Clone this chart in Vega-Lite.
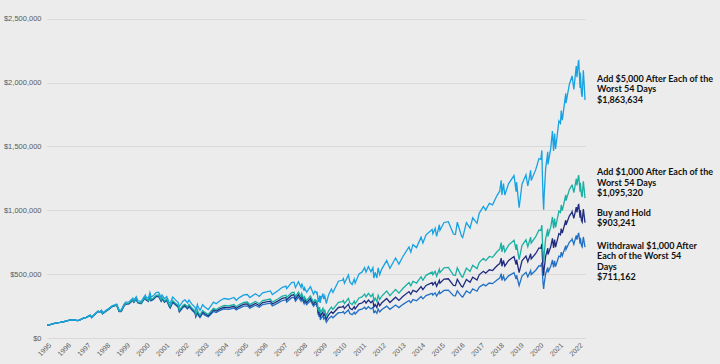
{
"$schema": "https://vega.github.io/schema/vega-lite/v6.json",
"width": 538, "height": 332,
"autosize": "none",
"padding": {"left": 47, "top": 6, "right": 135, "bottom": 26},
"background": "#ececec",
"config": {"view": {"stroke": null}, "font": "Liberation Sans"},
"datasets": {"series": [
{"date":"1995-01-03","w":100000,"bh":100000,"a1":100000,"a5":100000},
{"date":"1995-03-01","w":105640,"bh":105640,"a1":105640,"a5":105640},
{"date":"1995-05-01","w":111960,"bh":111960,"a1":111960,"a5":111960},
{"date":"1995-07-03","w":119150,"bh":119150,"a1":119150,"a5":119150},
{"date":"1995-09-01","w":122630,"bh":122630,"a1":122630,"a5":122630},
{"date":"1995-11-01","w":127210,"bh":127210,"a1":127210,"a5":127210},
{"date":"1995-12-29","w":134180,"bh":134180,"a1":134180,"a5":134180},
{"date":"1996-03-01","w":140490,"bh":140490,"a1":140490,"a5":140490},
{"date":"1996-05-01","w":142450,"bh":142450,"a1":142450,"a5":142450},
{"date":"1996-07-24","w":136570,"bh":136570,"a1":136570,"a5":136570},
{"date":"1996-09-03","w":142020,"bh":142020,"a1":142020,"a5":142020},
{"date":"1996-11-01","w":153350,"bh":153350,"a1":153350,"a5":153350},
{"date":"1996-12-31","w":161400,"bh":161400,"a1":161400,"a5":161400},
{"date":"1997-03-11","w":177090,"bh":177090,"a1":177090,"a5":177090},
{"date":"1997-04-11","w":160530,"bh":160530,"a1":160530,"a5":160530},
{"date":"1997-06-02","w":184280,"bh":184280,"a1":184280,"a5":184280},
{"date":"1997-08-06","w":209110,"bh":209110,"a1":209110,"a5":209110},
{"date":"1997-09-02","w":201920,"bh":201920,"a1":201920,"a5":201920},
{"date":"1997-10-07","w":214120,"bh":214120,"a1":214120,"a5":214120},
{"date":"1997-10-27","w":190030,"bh":191030,"a1":192030,"a5":196030},
{"date":"1997-12-31","w":210180,"bh":211290,"a1":212400,"a5":216820},
{"date":"1998-03-02","w":227080,"bh":228280,"a1":229470,"a5":234250},
{"date":"1998-04-22","w":244850,"bh":246140,"a1":247430,"a5":252580},
{"date":"1998-07-17","w":257200,"bh":258550,"a1":259900,"a5":265320},
{"date":"1998-08-31","w":206370,"bh":208450,"a1":210540,"a5":218880},
{"date":"1998-10-08","w":207010,"bh":209110,"a1":211200,"a5":219570},
{"date":"1998-11-30","w":251010,"bh":253540,"a1":256080,"a5":266230},
{"date":"1998-12-31","w":265020,"bh":267700,"a1":270380,"a5":281100},
{"date":"1999-03-01","w":266960,"bh":269660,"a1":272360,"a5":283160},
{"date":"1999-05-13","w":295000,"bh":297980,"a1":300960,"a5":312890},
{"date":"1999-06-01","w":279260,"bh":282080,"a1":284900,"a5":296200},
{"date":"1999-07-16","w":305780,"bh":308870,"a1":311960,"a5":324330},
{"date":"1999-08-10","w":276240,"bh":279030,"a1":281820,"a5":292990},
{"date":"1999-10-15","w":268900,"bh":271620,"a1":274340,"a5":285210},
{"date":"1999-11-30","w":299520,"bh":302550,"a1":305580,"a5":317690},
{"date":"1999-12-31","w":316780,"bh":319980,"a1":323180,"a5":335990},
{"date":"2000-01-04","w":300690,"bh":304730,"a1":308770,"a5":324950},
{"date":"2000-02-25","w":286500,"bh":290350,"a1":294200,"a5":309610},
{"date":"2000-03-24","w":328200,"bh":332610,"a1":337020,"a5":354680},
{"date":"2000-04-14","w":290650,"bh":295580,"a1":300510,"a5":320210},
{"date":"2000-05-24","w":299870,"bh":304950,"a1":310030,"a5":330360},
{"date":"2000-07-17","w":323430,"bh":328910,"a1":334390,"a5":356320},
{"date":"2000-09-01","w":325780,"bh":331300,"a1":336820,"a5":358910},
{"date":"2000-10-18","w":287440,"bh":292310,"a1":297180,"a5":316670},
{"date":"2000-11-03","w":305650,"bh":310830,"a1":316010,"a5":336730},
{"date":"2000-12-20","w":279520,"bh":284260,"a1":288990,"a5":307940},
{"date":"2001-01-30","w":294290,"bh":299280,"a1":304270,"a5":324220},
{"date":"2001-03-12","w":251740,"bh":257030,"a1":262320,"a5":283460},
{"date":"2001-04-04","w":234320,"bh":240260,"a1":246190,"a5":269930},
{"date":"2001-05-21","w":278720,"bh":285780,"a1":292830,"a5":321070},
{"date":"2001-07-02","w":262580,"bh":269230,"a1":275880,"a5":302480},
{"date":"2001-08-31","w":240900,"bh":247010,"a1":253110,"a5":277520},
{"date":"2001-09-21","w":203300,"bh":210410,"a1":217520,"a5":245960},
{"date":"2001-11-30","w":239710,"bh":248100,"a1":256480,"a5":290010},
{"date":"2002-01-04","w":246870,"bh":255500,"a1":264130,"a5":298670},
{"date":"2002-02-20","w":227930,"bh":235900,"a1":243870,"a5":275750},
{"date":"2002-03-19","w":246240,"bh":254850,"a1":263460,"a5":297900},
{"date":"2002-05-07","w":220980,"bh":228710,"a1":236440,"a5":267350},
{"date":"2002-07-10","w":192550,"bh":200390,"a1":208230,"a5":239580},
{"date":"2002-07-23","w":165890,"bh":173600,"a1":181320,"a5":212180},
{"date":"2002-08-22","w":199280,"bh":209760,"a1":220240,"a5":262150},
{"date":"2002-09-03","w":180670,"bh":191250,"a1":201830,"a5":244150},
{"date":"2002-10-09","w":159890,"bh":169250,"a1":178610,"a5":216070},
{"date":"2002-11-27","w":193010,"bh":204310,"a1":215610,"a5":260830},
{"date":"2002-12-31","w":181080,"bh":191680,"a1":202280,"a5":244700},
{"date":"2003-03-11","w":164620,"bh":174260,"a1":183900,"a5":222460},
{"date":"2003-06-17","w":208040,"bh":220220,"a1":232400,"a5":281140},
{"date":"2003-08-05","w":198770,"bh":210410,"a1":222050,"a5":268610},
{"date":"2003-10-14","w":215850,"bh":228490,"a1":241130,"a5":291690},
{"date":"2003-12-31","w":228820,"bh":242220,"a1":255620,"a5":309220},
{"date":"2004-03-24","w":224490,"bh":237640,"a1":250790,"a5":303380},
{"date":"2004-06-30","w":234780,"bh":248530,"a1":262280,"a5":317280},
{"date":"2004-08-12","w":218940,"bh":231760,"a1":244580,"a5":295870},
{"date":"2004-10-01","w":232720,"bh":246350,"a1":259980,"a5":314500},
{"date":"2004-12-30","w":249600,"bh":264220,"a1":278840,"a5":337310},
{"date":"2005-03-07","w":252070,"bh":266830,"a1":281590,"a5":340640},
{"date":"2005-04-20","w":234170,"bh":247880,"a1":261590,"a5":316450},
{"date":"2005-08-03","w":256190,"bh":271190,"a1":286190,"a5":346200},
{"date":"2005-10-12","w":240540,"bh":254630,"a1":268720,"a5":325060},
{"date":"2005-12-14","w":261940,"bh":277280,"a1":292620,"a5":353980},
{"date":"2006-05-05","w":272850,"bh":288830,"a1":304810,"a5":368720},
{"date":"2006-06-13","w":251650,"bh":266390,"a1":281130,"a5":340080},
{"date":"2006-09-29","w":274910,"bh":291010,"a1":307110,"a5":371510},
{"date":"2006-12-15","w":293640,"bh":310830,"a1":328030,"a5":396810},
{"date":"2007-02-20","w":300220,"bh":317800,"a1":335380,"a5":405710},
{"date":"2007-03-05","w":281750,"bh":299280,"a1":316810,"a5":386940},
{"date":"2007-06-04","w":315790,"bh":335440,"a1":355090,"a5":433690},
{"date":"2007-07-19","w":318450,"bh":338270,"a1":358090,"a5":437350},
{"date":"2007-08-15","w":288310,"bh":306250,"a1":324190,"a5":395960},
{"date":"2007-10-09","w":320920,"bh":340890,"a1":360860,"a5":440740},
{"date":"2007-11-26","w":288520,"bh":306470,"a1":324420,"a5":396240},
{"date":"2007-12-10","w":310670,"bh":330000,"a1":349330,"a5":426660},
{"date":"2008-01-22","w":268620,"bh":285340,"a1":302060,"a5":368920},
{"date":"2008-02-01","w":286060,"bh":303860,"a1":321660,"a5":392860},
{"date":"2008-03-10","w":261040,"bh":277280,"a1":293520,"a5":358500},
{"date":"2008-05-19","w":292410,"bh":310610,"a1":328810,"a5":401590},
{"date":"2008-07-15","w":248940,"bh":264430,"a1":279920,"a5":341890},
{"date":"2008-08-11","w":267610,"bh":284260,"a1":300910,"a5":367520},
{"date":"2008-09-12","w":256730,"bh":272710,"a1":288690,"a5":352590},
{"date":"2008-09-15","w":243640,"bh":259860,"a1":276090,"a5":340990},
{"date":"2008-09-19","w":255210,"bh":273360,"a1":291510,"a5":364100},
{"date":"2008-09-29","w":223910,"bh":240910,"a1":257910,"a5":325910},
{"date":"2008-10-10","w":178450,"bh":195820,"a1":213190,"a5":282670},
{"date":"2008-10-13","w":199090,"bh":218470,"a1":237850,"a5":315360},
{"date":"2008-10-27","w":165490,"bh":184710,"a1":203930,"a5":280830},
{"date":"2008-11-04","w":196320,"bh":219130,"a1":241940,"a5":333160},
{"date":"2008-11-20","w":141450,"bh":163800,"a1":186150,"a5":275550},
{"date":"2008-11-28","w":168540,"bh":195170,"a1":221800,"a5":328320},
{"date":"2008-12-01","w":152490,"bh":177740,"a1":202990,"a5":303980},
{"date":"2009-01-06","w":174730,"bh":203660,"a1":232590,"a5":348310},
{"date":"2009-01-20","w":149450,"bh":175350,"a1":201260,"a5":304880},
{"date":"2009-02-09","w":161500,"bh":189500,"a1":217500,"a5":329490},
{"date":"2009-03-09","w":122900,"bh":147460,"a1":172020,"a5":270270},
{"date":"2009-04-20","w":150050,"bh":181230,"a1":212410,"a5":337150},
{"date":"2009-06-12","w":170600,"bh":206060,"a1":241520,"a5":383340},
{"date":"2009-07-10","w":158520,"bh":191460,"a1":224410,"a5":356190},
{"date":"2009-10-19","w":197830,"bh":238950,"a1":280070,"a5":444530},
{"date":"2009-12-31","w":201080,"bh":242870,"a1":284660,"a5":451820},
{"date":"2010-01-19","w":207390,"bh":250490,"a1":293590,"a5":466000},
{"date":"2010-02-08","w":190440,"bh":230020,"a1":269600,"a5":427920},
{"date":"2010-04-23","w":219480,"bh":265090,"a1":310700,"a5":493160},
{"date":"2010-05-20","w":192140,"bh":233280,"a1":274420,"a5":438970},
{"date":"2010-07-02","w":183360,"bh":222610,"a1":261870,"a5":418890},
{"date":"2010-08-09","w":202190,"bh":245480,"a1":288770,"a5":461920},
{"date":"2010-08-26","w":187840,"bh":228060,"a1":268270,"a5":429140},
{"date":"2010-11-05","w":219780,"bh":266830,"a1":313880,"a5":502090},
{"date":"2010-12-31","w":225700,"bh":274020,"a1":322340,"a5":515620},
{"date":"2011-02-18","w":240950,"bh":292530,"a1":344120,"a5":550460},
{"date":"2011-03-16","w":225520,"bh":273800,"a1":322080,"a5":515210},
{"date":"2011-04-29","w":244720,"bh":297110,"a1":349500,"a5":559070},
{"date":"2011-06-15","w":227130,"bh":275760,"a1":324390,"a5":518900},
{"date":"2011-07-22","w":241310,"bh":292970,"a1":344630,"a5":551280},
{"date":"2011-08-08","w":198820,"bh":243740,"a1":288660,"a5":468330},
{"date":"2011-08-18","w":200530,"bh":248310,"a1":296090,"a5":487200},
{"date":"2011-09-01","w":211800,"bh":262260,"a1":312720,"a5":514560},
{"date":"2011-10-03","w":193320,"bh":239380,"a1":285440,"a5":469680},
{"date":"2011-10-27","w":226050,"bh":279900,"a1":333750,"a5":549170},
{"date":"2011-11-25","w":203880,"bh":252450,"a1":301020,"a5":495320},
{"date":"2011-12-30","w":221300,"bh":274020,"a1":326740,"a5":537640},
{"date":"2012-04-02","w":249620,"bh":309090,"a1":368560,"a5":606440},
{"date":"2012-06-01","w":224810,"bh":278370,"a1":331930,"a5":546180},
{"date":"2012-09-14","w":257880,"bh":319320,"a1":380760,"a5":626520},
{"date":"2012-11-15","w":238010,"bh":294710,"a1":351410,"a5":578230},
{"date":"2013-01-31","w":263510,"bh":326290,"a1":389070,"a5":640200},
{"date":"2013-05-21","w":293590,"bh":363540,"a1":433490,"a5":713280},
{"date":"2013-06-24","w":276710,"bh":342630,"a1":408550,"a5":672250},
{"date":"2013-08-02","w":300800,"bh":372470,"a1":444140,"a5":730800},
{"date":"2013-10-08","w":291310,"bh":360710,"a1":430110,"a5":707730},
{"date":"2013-12-31","w":325080,"bh":402530,"a1":479980,"a5":789780},
{"date":"2014-02-03","w":306430,"bh":379440,"a1":452450,"a5":744480},
{"date":"2014-04-02","w":332470,"bh":411680,"a1":490890,"a5":807730},
{"date":"2014-07-24","w":349710,"bh":433030,"a1":516350,"a5":849620},
{"date":"2014-08-07","w":335990,"bh":416040,"a1":496090,"a5":816280},
{"date":"2014-09-18","w":353760,"bh":438040,"a1":522320,"a5":859450},
{"date":"2014-10-15","w":327540,"bh":405580,"a1":483620,"a5":795760},
{"date":"2014-12-05","w":365020,"bh":451980,"a1":538940,"a5":886800},
{"date":"2014-12-16","w":347070,"bh":429760,"a1":512450,"a5":843200},
{"date":"2015-03-02","w":372410,"bh":461130,"a1":549850,"a5":904750},
{"date":"2015-05-21","w":374860,"bh":464170,"a1":553480,"a5":910720},
{"date":"2015-08-24","w":331990,"bh":412330,"a1":492670,"a5":814030},
{"date":"2015-09-29","w":330410,"bh":410370,"a1":490330,"a5":810160},
{"date":"2015-11-03","w":369870,"bh":459380,"a1":548890,"a5":906910},
{"date":"2016-01-20","w":326030,"bh":404930,"a1":483830,"a5":799410},
{"date":"2016-02-11","w":320770,"bh":398390,"a1":476010,"a5":786510},
{"date":"2016-04-20","w":368650,"bh":457860,"a1":547070,"a5":903910},
{"date":"2016-06-27","w":350940,"bh":435860,"a1":520780,"a5":860470},
{"date":"2016-08-15","w":384090,"bh":477030,"a1":569970,"a5":941750},
{"date":"2016-11-03","w":366200,"bh":454810,"a1":543430,"a5":897890},
{"date":"2016-12-13","w":398290,"bh":494670,"a1":591050,"a5":976580},
{"date":"2017-03-01","w":420210,"bh":521900,"a1":623590,"a5":1030330},
{"date":"2017-04-13","w":408460,"bh":507300,"a1":606140,"a5":1001520},
{"date":"2017-06-19","w":430210,"bh":534310,"a1":638420,"a5":1054840},
{"date":"2017-08-18","w":425470,"bh":528430,"a1":631390,"a5":1043230},
{"date":"2017-11-08","w":454940,"bh":565030,"a1":675120,"a5":1115480},
{"date":"2017-12-29","w":468970,"bh":582450,"a1":695940,"a5":1149880},
{"date":"2018-01-26","w":503870,"bh":625800,"a1":747730,"a5":1235450},
{"date":"2018-02-08","w":450690,"bh":562190,"a1":673690,"a5":1119690},
{"date":"2018-03-09","w":486500,"bh":606850,"a1":727210,"a5":1208630},
{"date":"2018-04-02","w":450870,"bh":562410,"a1":673950,"a5":1120120},
{"date":"2018-06-12","w":486660,"bh":607060,"a1":727460,"a5":1209050},
{"date":"2018-09-20","w":511810,"bh":638430,"a1":765050,"a5":1271530},
{"date":"2018-10-29","w":461170,"bh":575260,"a1":689350,"a5":1145720},
{"date":"2018-11-07","w":491390,"bh":612950,"a1":734520,"a5":1220780},
{"date":"2018-12-24","w":410530,"bh":512090,"a1":613650,"a5":1019910},
{"date":"2019-02-15","w":484750,"bh":604670,"a1":724590,"a5":1204290},
{"date":"2019-04-30","w":514430,"bh":641700,"a1":768970,"a5":1278040},
{"date":"2019-06-03","w":479160,"bh":597700,"a1":716240,"a5":1190410},
{"date":"2019-07-26","w":528400,"bh":659120,"a1":789840,"a5":1312740},
{"date":"2019-08-05","w":496800,"bh":619700,"a1":742600,"a5":1234220},
{"date":"2019-10-28","w":530670,"bh":661950,"a1":793240,"a5":1318380},
{"date":"2019-12-27","w":565770,"bh":705740,"a1":845710,"a5":1405580},
{"date":"2020-01-31","w":563330,"bh":702690,"a1":842050,"a5":1399510},
{"date":"2020-02-19","w":591270,"bh":737540,"a1":883820,"a5":1468920},
{"date":"2020-02-27","w":518290,"bh":648890,"a1":779490,"a5":1301880},
{"date":"2020-03-12","w":428840,"bh":540410,"a1":651980,"a5":1098270},
{"date":"2020-03-23","w":383820,"bh":487260,"a1":590700,"a5":1004460},
{"date":"2020-04-01","w":422790,"bh":538020,"a1":653250,"a5":1114150},
{"date":"2020-04-29","w":503240,"bh":640390,"a1":777540,"a5":1326150},
{"date":"2020-06-08","w":553220,"bh":703990,"a1":854760,"a5":1457860},
{"date":"2020-06-11","w":512870,"bh":653900,"a1":794930,"a5":1359070},
{"date":"2020-07-31","w":558820,"bh":712490,"a1":866160,"a5":1480850},
{"date":"2020-09-02","w":611610,"bh":779800,"a1":947990,"a5":1620740},
{"date":"2020-09-23","w":553010,"bh":705080,"a1":857150,"a5":1465450},
{"date":"2020-10-12","w":603920,"bh":769990,"a1":936060,"a5":1600360},
{"date":"2020-10-30","w":558650,"bh":712270,"a1":865900,"a5":1480400},
{"date":"2020-12-31","w":641670,"bh":818130,"a1":994590,"a5":1700420},
{"date":"2021-01-29","w":634500,"bh":808980,"a1":983460,"a5":1681400},
{"date":"2021-02-12","w":672080,"bh":856900,"a1":1041720,"a5":1780990},
{"date":"2021-03-04","w":643730,"bh":820750,"a1":997770,"a5":1705860},
{"date":"2021-05-07","w":723160,"bh":922030,"a1":1120900,"a5":1916360},
{"date":"2021-05-12","w":694120,"bh":885000,"a1":1075880,"a5":1839400},
{"date":"2021-07-12","w":749130,"bh":955140,"a1":1161150,"a5":1985180},
{"date":"2021-08-31","w":772710,"bh":985200,"a1":1197690,"a5":2047660},
{"date":"2021-09-02","w":775100,"bh":988250,"a1":1201400,"a5":2053990},
{"date":"2021-10-04","w":734620,"bh":936630,"a1":1138640,"a5":1946700},
{"date":"2021-11-18","w":803800,"bh":1024840,"a1":1245880,"a5":2130050},
{"date":"2021-12-01","w":771000,"bh":983020,"a1":1195040,"a5":2043130},
{"date":"2021-12-27","w":818500,"bh":1043580,"a1":1268660,"a5":2168990},
{"date":"2022-01-03","w":819520,"bh":1044880,"a1":1270240,"a5":2171700},
{"date":"2022-01-27","w":739050,"bh":942290,"a1":1145530,"a5":1958470},
{"date":"2022-02-02","w":784150,"bh":999790,"a1":1215430,"a5":2077980},
{"date":"2022-02-23","w":721800,"bh":920290,"a1":1118780,"a5":1912750},
{"date":"2022-03-08","w":712400,"bh":908310,"a1":1104220,"a5":1887850},
{"date":"2022-03-29","w":791330,"bh":1008940,"a1":1226550,"a5":2096990},
{"date":"2022-04-14","w":750500,"bh":956880,"a1":1163260,"a5":1988800},
{"date":"2022-04-29","w":711162,"bh":903241,"a1":1095320,"a5":1863634}
],
"notes": [
{"date":"2022-04-29","pos":2060000,"label":["Add $5,000 After Each of the","Worst 54 Days","$1,863,634"]},
{"date":"2022-04-29","pos":1330000,"label":["Add $1,000 After Each of the","Worst 54 Days","$1,095,320"]},
{"date":"2022-04-29","pos":1011000,"label":["Buy and Hold","$903,241"]},
{"date":"2022-04-29","pos":753000,"label":["Withdrawal $1,000 After","Each of the Worst 54","Days","$711,162"]}
]},
"layer": [
{
"data": {"name": "series"},
"transform": [{"fold": ["w", "bh", "a1", "a5"], "as": ["series", "value"]}],
"mark": {"type": "line", "strokeWidth": 1.3},
"encoding": {
"x": {"field": "date", "type": "temporal",
"scale": {"domain": [{"year": 1995, "month": 1, "date": 1}, {"year": 2022, "month": 4, "date": 29}]},
"axis": {"format": "%Y", "labelAngle": -45, "tickCount": {"interval": "year", "step": 1}, "grid": false, "ticks": false, "domain": false, "labelColor": "#595959", "labelFontSize": 7, "labelPadding": 3, "labelFlush": false, "labelOverlap": false, "title": null}},
"y": {"field": "value", "type": "quantitative",
"scale": {"domain": [0, 2500000]},
"axis": {"values": [0, 500000, 1000000, 1500000, 2000000, 2500000], "format": "$,.0f", "labelColor": "#595959", "labelFontSize": 7.5, "labelPadding": 6, "grid": true, "gridColor": "#d9d9d9", "gridWidth": 1, "domain": false, "ticks": false, "title": null}},
"color": {"field": "series", "type": "nominal", "scale": {"domain": ["w", "bh", "a1", "a5"], "range": ["#2170c4", "#1f2c80", "#19b0a3", "#17a2e2"]}, "legend": null}
}
},
{
"data": {"name": "notes"},
"mark": {"type": "text", "align": "left", "baseline": "top", "dx": 12, "font": "Lato", "fontWeight": "bold", "fontSize": 9, "lineHeight": 10.5, "color": "#111111"},
"encoding": {
"x": {"field": "date", "type": "temporal"},
"y": {"field": "pos", "type": "quantitative"},
"text": {"field": "label"}
}
}
]
}
